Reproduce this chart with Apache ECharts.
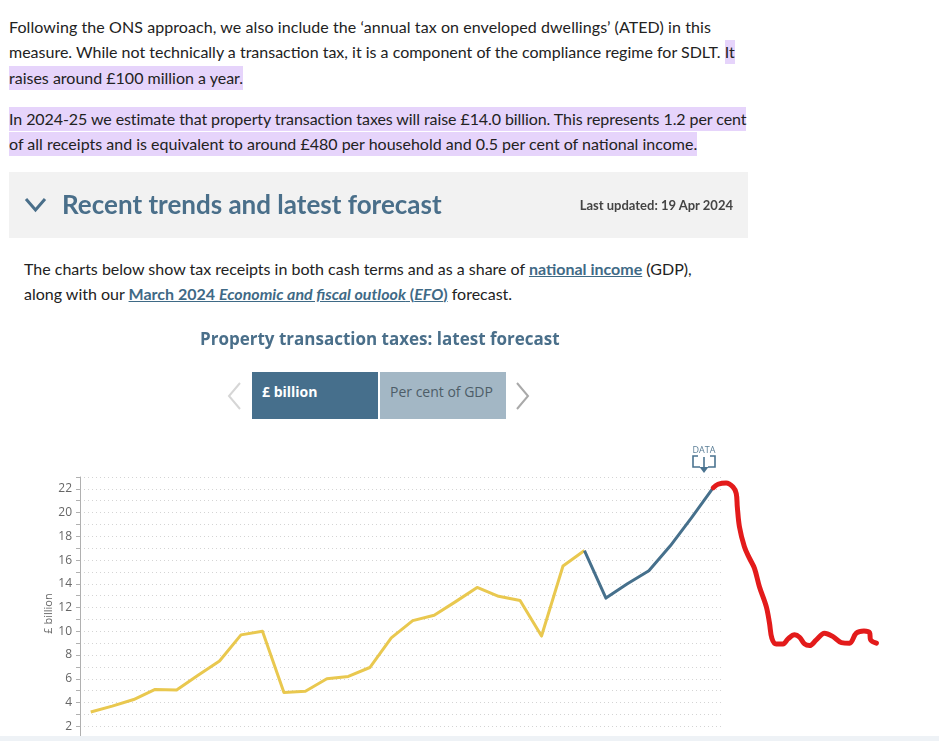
<!DOCTYPE html>
<html>
<head>
<meta charset="utf-8">
<script src="https://cdn.jsdelivr.net/npm/echarts@6/dist/echarts.min.js"></script>
<style>
  html, body { margin: 0; padding: 0; width: 945px; height: 741px; overflow: hidden; background: #fff; }
  body { font-family: Lato, "Open Sans", sans-serif; color: #222; position: relative; }
  .ln { position: absolute; white-space: nowrap; font-size: 16px; line-height: 25px; }
  .hl { background: #e6d4fb; padding: 2px 0 3px 0; }
  .lk { color: #3f6a86; font-weight: bold; text-decoration: underline; }
  #chart { position: absolute; left: 0; top: 310px; width: 945px; height: 490px; }
  .btn { position: absolute; top: 372px; width: 126px; height: 47px; font-family: "Open Sans", sans-serif; font-size: 14px; box-sizing: border-box; padding: 10px 0 0 10px; z-index: 2; }
</style>
</head>
<body>

<div class="ln" style="left:9px; top:14px; letter-spacing:0.08px;">Following the ONS approach, we also include the ‘annual tax on enveloped dwellings’ (ATED) in this</div>
<div class="ln" style="left:9px; top:39px;">measure. While not technically a transaction tax, it is a component of the compliance regime for SDLT. <span class="hl">It</span></div>
<div class="ln" style="left:9px; top:65px;"><span class="hl">raises around £100 million a year.</span></div>
<div class="ln" style="left:9px; top:106px; letter-spacing:-0.08px;"><span class="hl">In 2024-25 we estimate that property transaction taxes will raise £14.0 billion. This represents 1.2 per cent</span></div>
<div class="ln" style="left:9px; top:131px;"><span class="hl">of all receipts and is equivalent to around £480 per household and 0.5 per cent of national income.</span></div>

<div style="position:absolute; left:9px; top:172px; width:739px; height:66px; background:#f2f2f2;"></div>
<svg style="position:absolute; left:0; top:0; z-index:1;" width="945" height="741">
  <polyline points="26,199 35.5,210 45,199" fill="none" stroke="#4a6f8a" stroke-width="3"/>
  <polyline points="240,383 229,396 240,409" fill="none" stroke="#d6d6d6" stroke-width="2"/>
  <polyline points="517,383 528,396 517,409" fill="none" stroke="#a9a9a9" stroke-width="2"/>
  <text x="704" y="453" font-family="Open Sans, sans-serif" font-size="9" fill="#5a7d96" text-anchor="middle">DATA</text>
  <polyline points="698,456 693,456 693,467 700,467" fill="none" stroke="#4a7390" stroke-width="1.6"/>
  <polyline points="710,456 715,456 715,467 708,467" fill="none" stroke="#4a7390" stroke-width="1.6"/>
  <line x1="704" y1="457" x2="704" y2="468" stroke="#4a7390" stroke-width="1.6"/>
  <polygon points="699.5,467 708.5,467 704,473" fill="#4a7390"/>
</svg>
<div style="position:absolute; left:62px; top:188px; font-size:26px; font-weight:bold; color:#4a6f8a; white-space:nowrap; z-index:1;">Recent trends and latest forecast</div>
<div style="position:absolute; right:212px; top:197px; font-size:13px; font-weight:bold; color:#444; white-space:nowrap; z-index:1;">Last updated: 19 Apr 2024</div>

<div class="ln" style="left:24px; top:256px;">The charts below show tax receipts in both cash terms and as a share of <span class="lk">national income</span> (GDP),</div>
<div class="ln" style="left:24px; top:281px;">along with our <span class="lk">March 2024 <i>Economic and fiscal outlook</i> (<i>EFO</i>)</span> forecast.</div>

<div id="chart"></div>
<div class="btn" style="left:252px; background:#466f8c; color:#fff; font-weight:bold;">£ billion</div>
<div class="btn" style="left:380px; background:#a3b7c5; color:#4d5d68;">Per cent of GDP</div>
<div style="position:absolute; left:0; top:736px; width:939px; height:5px; background:#eef2f6; z-index:3;"></div>

<script>
// financial years shown on the category axis
const years = ['1999-00', '2000-01', '2001-02', '2002-03', '2003-04', '2004-05', '2005-06', '2006-07',
  '2007-08', '2008-09', '2009-10', '2010-11', '2011-12', '2012-13', '2013-14', '2014-15', '2015-16',
  '2016-17', '2017-18', '2018-19', '2019-20', '2020-21', '2021-22', '2022-23', '2023-24', '2024-25',
  '2025-26', '2026-27', '2027-28', '2028-29'];

// outturn, £ billion (1999-00 to 2022-23)
const outturn = [3.2, 3.7, 4.25, 5.1, 5.05, 6.3, 7.5, 9.7, 10.0, 4.85, 4.95, 6.0, 6.2, 6.95,
  9.45, 10.9, 11.35, 12.5, 13.7, 12.95, 12.6, 9.6, 15.5, 16.8];

// March 2024 forecast, £ billion (2022-23 to 2028-29)
const forecast = [16.8, 12.8, 14.0, 15.1, 17.2, 19.6, 22.1];

// hand-drawn red line on top of the screenshot (x in year steps, y in £ billion)
const scribbleX = [29.0, 29.22, 29.6, 29.92, 30.07, 30.12, 30.22, 30.45, 30.69, 30.92, 31.15, 31.47,
  31.62, 31.73, 31.93, 32.25, 32.48, 32.79, 33.02, 33.25, 33.49, 33.8, 34.18, 34.58, 34.97, 35.35,
  35.66, 36.02, 36.28, 36.33, 36.6];
const scribbleY = [22.1, 22.39, 22.5, 22.16, 21.61, 20.48, 18.8, 17.12, 16.14, 15.3, 13.76, 12.08,
  10.68, 9.42, 8.94, 8.94, 9.36, 9.7, 9.5, 8.94, 8.8, 9.28, 9.84, 9.55, 9.05, 9.0, 9.84, 10.03,
  9.89, 9.28, 9.0];

const outturnSeries = years.map((y, i) => i < outturn.length ? outturn[i] : null);
const forecastStart = years.length - forecast.length;
const forecastSeries = years.map((y, i) => i >= forecastStart ? forecast[i - forecastStart] : null);
const scribble = scribbleX.map((x, i) => [x, scribbleY[i]]);

const gridLeft = 80, gridRight = 221, gridTop = 167, gridBottom = 50;
const chartWidth = 945;
const step = (chartWidth - gridLeft - gridRight) / years.length;
const wideRight = 60;
const wideMax = (chartWidth - gridLeft - wideRight) / step - 0.5;

const option = {
    animation: false,
    title: {
        text: 'Property transaction taxes: latest forecast',
        left: 195,
        top: 17,
        textStyle: { fontFamily: 'Open Sans', fontWeight: 'bold', fontSize: 17, color: '#4a6f8a' }
    },
    grid: [
        { left: gridLeft, right: gridRight, top: gridTop, bottom: gridBottom },
        { left: gridLeft, right: wideRight, top: gridTop, bottom: gridBottom }
    ],
    xAxis: [
        {
            type: 'category',
            gridIndex: 0,
            data: years,
            boundaryGap: true,
            axisLine: { lineStyle: { color: '#b0b0b0' } },
            axisTick: { show: false },
            axisLabel: { color: '#666', fontSize: 11 }
        },
        { type: 'value', gridIndex: 1, min: -0.5, max: wideMax, show: false }
    ],
    yAxis: [
        {
            type: 'value',
            gridIndex: 0,
            min: 0,
            max: 23,
            interval: 1,
            name: '£ billion',
            nameLocation: 'middle',
            nameGap: 26,
            nameMoveOverlap: false,
            nameRotate: 90,
            nameTextStyle: { color: '#666', fontSize: 11, fontFamily: 'Open Sans' },
            axisLine: { show: true, lineStyle: { color: '#b0b0b0' } },
            axisTick: { show: true, length: 4, lineStyle: { color: '#b0b0b0' } },
            axisLabel: {
                color: '#666',
                fontSize: 12,
                fontFamily: 'Open Sans',
                margin: 8,
                formatter: v => (v % 2 === 0 && v > 0) ? String(v) : ''
            },
            splitLine: { lineStyle: { color: '#d4d4d4', type: [1, 3], width: 1 } }
        },
        { type: 'value', gridIndex: 1, min: 0, max: 23, show: false }
    ],
    series: [
        {
            name: 'Outturn',
            type: 'line',
            data: outturnSeries,
            symbol: 'none',
            lineStyle: { color: '#e9c84f', width: 3, join: 'round' }
        },
        {
            name: 'Forecast',
            type: 'line',
            data: forecastSeries,
            symbol: 'none',
            lineStyle: { color: '#46708c', width: 3, join: 'round' }
        },
        {
            name: 'Scribble',
            type: 'line',
            xAxisIndex: 1,
            yAxisIndex: 1,
            data: scribble,
            smooth: 0.35,
            symbol: 'none',
            z: 5,
            lineStyle: { color: '#e31b1b', width: 5, cap: 'round', join: 'round' }
        }
    ]
};

let plot = echarts.init(document.querySelector('#chart'));
plot.setOption(option);
</script>
</body>
</html>
